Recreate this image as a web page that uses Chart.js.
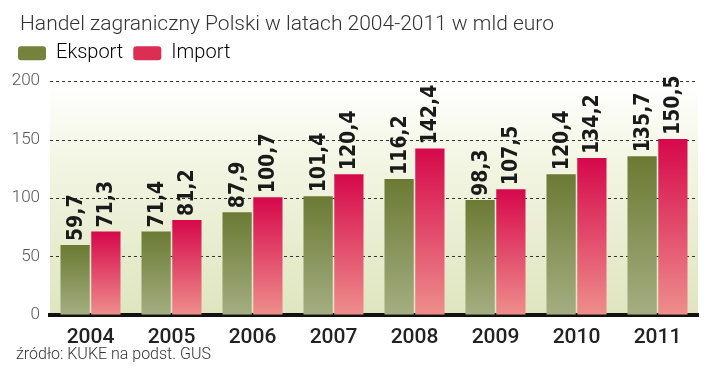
<!DOCTYPE html>
<html>
<head>
<meta charset="utf-8">
<script src="https://cdn.jsdelivr.net/npm/chart.js@4/dist/chart.umd.min.js"></script>
<style>
  html, body { margin: 0; padding: 0; background: #fff; }
  #wrap { width: 720px; height: 388px; }
</style>
</head>
<body>
<div id="wrap"><canvas id="c" width="720" height="388"></canvas></div>
<script>
const years = ["2004", "2005", "2006", "2007", "2008", "2009", "2010", "2011"];
const eksport = [59.7, 71.4, 87.9, 101.4, 116.2, 98.3, 120.4, 135.7];
const importy = [71.3, 81.2, 100.7, 120.4, 142.4, 107.5, 134.2, 150.5];
const yTicks = [0, 50, 100, 150, 200];
const source = "źródło: KUKE na podst. GUS";

// per-bar vertical gradient: dark at the top, pale at the base
const barFill = (top, bottom) => (c) => {
  const { ctx, chartArea, scales } = c.chart;
  if (!chartArea || c.dataIndex === undefined) return top;
  const y0 = scales.y.getPixelForValue(0);
  const y1 = scales.y.getPixelForValue(c.raw);
  const g = ctx.createLinearGradient(0, y1, 0, y0);
  g.addColorStop(0, top);
  g.addColorStop(1, bottom);
  return g;
};

const extras = {
  id: "extras",
  beforeLayout: (chart) => {
    // a bit more room under the legend
    const lg = chart.legend;
    if (lg && !lg._patched) {
      const fit = lg.fit;
      lg.fit = function () { fit.call(this); this.height += 8; };
      lg._patched = true;
    }
  },
  afterLayout: (chart) => {
    chart.titleBlock.left += 12;
    chart.titleBlock.right += 12;
  },
  beforeDraw: (chart) => {
    const { ctx, chartArea: a } = chart;
    ctx.save();
    const g = ctx.createLinearGradient(0, a.top, 0, a.bottom);
    g.addColorStop(0, "#ffffff");
    g.addColorStop(0.35, "#f3f5e3");
    g.addColorStop(1, "#dfe5bf");
    ctx.fillStyle = g;
    ctx.fillRect(a.left, a.top, a.right - a.left, a.bottom - a.top);
    // dashed grid lines
    ctx.strokeStyle = "#333";
    ctx.lineWidth = 1;
    ctx.setLineDash([3, 3]);
    yTicks.slice(1).forEach((v) => {
      const y = Math.round(chart.scales.y.getPixelForValue(v)) + 0.5;
      ctx.beginPath();
      ctx.moveTo(a.left, y);
      ctx.lineTo(a.right, y);
      ctx.stroke();
    });
    ctx.restore();
  },
  afterDatasetsDraw: (chart) => {
    const ctx = chart.ctx;
    ctx.save();
    ctx.fillStyle = "#1a1a1a";
    ctx.font = "bold 21px 'DejaVu Sans Condensed', 'DejaVu Sans', sans-serif";
    ctx.textAlign = "left";
    ctx.textBaseline = "middle";
    chart.data.datasets.forEach((ds, di) => {
      chart.getDatasetMeta(di).data.forEach((bar, i) => {
        ctx.save();
        ctx.translate(bar.x, bar.y - 4);
        ctx.rotate(-Math.PI / 2);
        ctx.fillText(ds.data[i].toFixed(1).replace(".", ","), 0, 1);
        ctx.restore();
      });
    });
    ctx.restore();
  },
  afterDraw: (chart) => {
    const ctx = chart.ctx;
    ctx.save();
    ctx.fillStyle = "#333";
    ctx.font = "300 16px Roboto, sans-serif";
    ctx.textBaseline = "middle";
    ctx.fillText(source, 16, 355);
    ctx.restore();
  },
};

new Chart(document.getElementById("c"), {
  type: "bar",
  data: {
    labels: years,
    datasets: [
      {
        label: "Eksport",
        data: eksport,
        backgroundColor: barFill("#6b7a33", "#a4ae82"),
        legendColor: "#74823c",
      },
      {
        label: "Import",
        data: importy,
        backgroundColor: barFill("#d6084b", "#ee8e8c"),
        legendColor: "#dc2e52",
      },
    ],
  },
  options: {
    responsive: false,
    animation: false,
    categoryPercentage: 0.76,
    barPercentage: 0.95,
    layout: { padding: { left: 8, right: 22, top: 12, bottom: 36 } },
    scales: {
      x: {
        grid: { display: false },
        border: { display: true, color: "#111", width: 4 },
        ticks: {
          color: "#222",
          font: { family: "Roboto", size: 21, weight: "500" },
          padding: 2,
        },
      },
      y: {
        min: 0,
        max: 200,
        afterBuildTicks: (s) => { s.ticks = yTicks.map((v) => ({ value: v })); },
        afterFit: (s) => { s.width = 42; },
        grid: { display: false, drawTicks: false },
        border: { display: false },
        ticks: {
          color: "#555",
          font: { family: "Roboto", size: 17, weight: "300" },
          padding: 10,
        },
      },
    },
    plugins: {
      title: {
        display: true,
        text: "Handel zagraniczny Polski w latach 2004-2011 w mld euro",
        align: "start",
        color: "#333",
        font: { family: "Roboto", size: 21, weight: "300" },
        padding: { top: 0, bottom: -4 },
      },
      legend: {
        align: "start",
        labels: {
          color: "#333",
          font: { family: "Roboto", size: 20, weight: "300" },
          boxWidth: 28,
          boxHeight: 14,
          useBorderRadius: true,
          borderRadius: 3,
          padding: 10,
          generateLabels: (chart) =>
            chart.data.datasets.map((ds, i) => ({
              text: ds.label,
              fillStyle: ds.legendColor,
              strokeStyle: ds.legendColor,
              lineWidth: 0,
              borderRadius: 3,
              datasetIndex: i,
            })),
        },
      },
      tooltip: { enabled: false },
    },
  },
  plugins: [extras],
});
</script>
</body>
</html>
